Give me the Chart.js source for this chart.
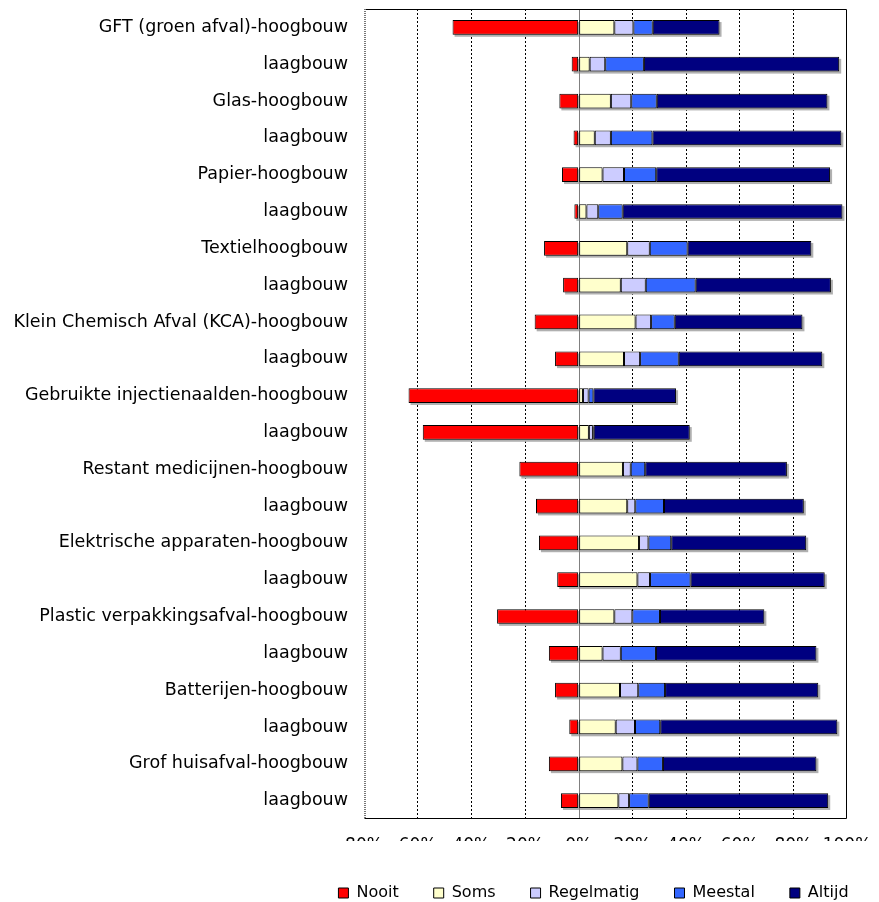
<!DOCTYPE html>
<html>
<head>
<meta charset="utf-8">
<script src="https://cdn.jsdelivr.net/npm/chart.js@4"></script>
<style>
  html, body { margin: 0; padding: 0; background: #fff; }
  #chart-container { width: 879px; height: 902px; }
</style>
</head>
<body>
<div id="chart-container"><canvas id="myChart"></canvas></div>
<script>
const categories = [
  'GFT (groen afval)-hoogbouw', 'laagbouw',
  'Glas-hoogbouw', 'laagbouw',
  'Papier-hoogbouw', 'laagbouw',
  'Textielhoogbouw', 'laagbouw',
  'Klein Chemisch Afval (KCA)-hoogbouw', 'laagbouw',
  'Gebruikte injectienaalden-hoogbouw', 'laagbouw',
  'Restant medicijnen-hoogbouw', 'laagbouw',
  'Elektrische apparaten-hoogbouw', 'laagbouw',
  'Plastic verpakkingsafval-hoogbouw', 'laagbouw',
  'Batterijen-hoogbouw', 'laagbouw',
  'Grof huisafval-hoogbouw', 'laagbouw'
];

// percentages per category (Nooit is drawn to the left of 0)
const nooit      = [47.0, 2.6, 7.2, 1.9, 6.2, 1.6, 12.9, 5.8, 16.4, 8.8, 63.4, 58.1, 22.1, 15.9, 14.8, 8.0, 30.4, 11.1, 8.8, 3.5, 11.1, 6.6];
const soms       = [13.3, 4.1, 12.0, 6.0, 8.9, 2.9, 18.1, 15.7, 21.2, 16.9, 1.6, 3.8, 16.5, 18.1, 22.5, 21.9, 13.3, 8.9, 15.4, 13.8, 16.3, 14.8];
const regelmatig = [7.1, 5.8, 7.6, 6.0, 8.0, 4.4, 8.4, 9.3, 5.8, 6.0, 2.1, 1.5, 2.9, 3.0, 3.5, 4.7, 6.7, 6.8, 6.8, 7.2, 5.6, 4.0];
const meestal    = [7.2, 14.4, 9.5, 15.5, 12.0, 9.1, 14.1, 18.6, 8.8, 14.4, 1.8, 0.3, 5.4, 10.7, 8.5, 15.1, 10.3, 13.1, 10.0, 9.4, 9.5, 7.3];
const altijd     = [24.9, 72.8, 63.6, 70.4, 64.8, 81.9, 46.1, 50.4, 47.6, 53.5, 30.8, 35.8, 52.8, 52.1, 50.3, 50.0, 38.9, 59.8, 57.1, 66.0, 57.2, 66.9];

const xMin = -80;
const xMax = 100;
const xStep = 20;

const LABEL_FONT = { family: 'DejaVu Sans', size: 17.5 };
const TICK_FONT = { family: 'DejaVu Sans', size: 17 };
const LEGEND_FONT = { family: 'DejaVu Sans', size: 16 };

// grey drop shadow behind each bar, zero line, and plot frame
const chartDecor = {
  id: 'chartDecor',
  beforeDatasetsDraw(chart) {
    const ctx = chart.ctx;
    const metas = chart.getSortedVisibleDatasetMetas();
    const n = chart.data.labels.length;
    ctx.save();
    ctx.fillStyle = '#b0b0b0';
    for (let i = 0; i < n; i++) {
      let l = Infinity, r = -Infinity, top = 0, h = 0;
      metas.forEach(m => {
        const el = m.data[i];
        const p = el.getProps(['x', 'y', 'base', 'height'], true);
        if (p.x === p.base) return;
        l = Math.min(l, p.x, p.base);
        r = Math.max(r, p.x, p.base);
        top = p.y - p.height / 2;
        h = p.height;
      });
      if (r > l) ctx.fillRect(l + 2, top + 2, r - l, h);
    }
    // zero line
    const x0 = Math.round(chart.scales.x.getPixelForValue(0)) + 0.5;
    ctx.strokeStyle = '#808080';
    ctx.lineWidth = 1;
    ctx.beginPath();
    ctx.moveTo(x0, chart.chartArea.top);
    ctx.lineTo(x0, chart.chartArea.bottom);
    ctx.stroke();
    ctx.restore();
  },
  afterDatasetsDraw(chart) {
    const ctx = chart.ctx;
    const a = chart.chartArea;
    ctx.save();
    ctx.lineWidth = 1;
    ctx.strokeStyle = '#000';
    ctx.beginPath();
    ctx.moveTo(a.left + 0.5, a.top + 0.5);
    ctx.lineTo(a.right - 0.5, a.top + 0.5);
    ctx.lineTo(a.right - 0.5, a.bottom - 0.5);
    ctx.lineTo(a.left + 0.5, a.bottom - 0.5);
    ctx.stroke();
    ctx.strokeStyle = '#777';
    ctx.setLineDash([1, 1]);
    ctx.lineWidth = 2;
    ctx.beginPath();
    ctx.moveTo(a.left + 1, a.top);
    ctx.lineTo(a.left + 1, a.bottom);
    ctx.stroke();
    ctx.restore();
  },
  afterLayout(chart) {
    // move the legend row under the plot like the original
    const lg = chart.legend;
    const shiftX = 170;
    const shiftY = 9;
    lg.left += shiftX; lg.right += shiftX;
    lg.top += shiftY; lg.bottom += shiftY;
  }
};

const makeSet = (label, values, color, sign) => ({
  label: label,
  data: values.map(v => sign * v),
  backgroundColor: color,
  borderColor: '#000000',
  borderWidth: 1,
  borderSkipped: false,
  barPercentage: 0.4,
  categoryPercentage: 1.0
});

const data = {
  labels: categories,
  datasets: [
    makeSet('Nooit', nooit, '#ff0000', -1),
    makeSet('Soms', soms, '#ffffcc', 1),
    makeSet('Regelmatig', regelmatig, '#ccccff', 1),
    makeSet('Meestal', meestal, '#3366ff', 1),
    makeSet('Altijd', altijd, '#000080', 1)
  ]
};

const options = {
  indexAxis: 'y',
  responsive: true,
  maintainAspectRatio: false,
  animation: false,
  layout: { padding: { top: 9, right: 32, left: 0, bottom: 0 } },
  plugins: {
    tooltip: { enabled: false },
    legend: {
      position: 'bottom',
      align: 'center',
      labels: {
        boxWidth: 10,
        boxHeight: 10,
        padding: 35,
        color: '#000',
        font: LEGEND_FONT
      }
    }
  },
  scales: {
    x: {
      stacked: true,
      min: xMin,
      max: xMax,
      afterFit: s => { s.height = 22; s.paddingLeft = 0; s.paddingRight = 0; },
      grid: {
        drawTicks: false,
        color: ctx => (ctx.tick && (ctx.tick.value === 0 || ctx.tick.value === xMin || ctx.tick.value === xMax)) ? 'rgba(0,0,0,0)' : '#000000',
        lineWidth: 1
      },
      border: { display: false, dash: [2, 2] },
      ticks: {
        stepSize: xStep,
        padding: 16,
        color: '#000',
        font: TICK_FONT,
        maxRotation: 0,
        autoSkip: false,
        callback: v => Math.abs(v) + '%'
      }
    },
    y: {
      stacked: true,
      afterFit: s => { s.width = 364; s.paddingTop = 0; s.paddingBottom = 0; },
      grid: { display: false, drawTicks: false },
      border: { display: false },
      ticks: {
        padding: 16,
        color: '#000',
        font: LABEL_FONT,
        autoSkip: false
      }
    }
  }
};

new Chart(document.getElementById('myChart').getContext('2d'), {
  type: 'bar',
  data: data,
  options: options,
  plugins: [chartDecor]
});
</script>
</body>
</html>
